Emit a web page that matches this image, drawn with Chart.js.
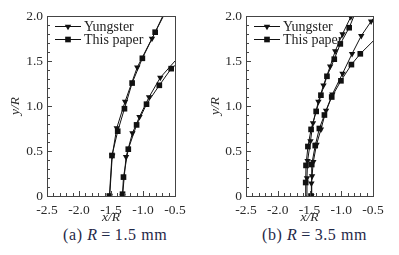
<!DOCTYPE html>
<html>
<head>
<meta charset="utf-8">
<script src="https://cdn.jsdelivr.net/npm/chart.js@4.4.1/dist/chart.umd.min.js"></script>
<style>
  body { margin: 0; background: #fff; width: 399px; height: 255px; position: relative; overflow: hidden; font-family: "Liberation Serif", serif; }
  .box { position: absolute; top: 0; }
  .cap { position: absolute; top: 226px; font-size: 16px; color: #1f2848; white-space: nowrap; letter-spacing: 0.6px; }
</style>
</head>
<body>
<div class="box" style="left:0"><canvas id="ca" width="200" height="226"></canvas></div>
<div class="box" style="left:200px"><canvas id="cb" width="199" height="226"></canvas></div>
<div class="cap" style="left:63px">(a)&nbsp;<i>R</i>&thinsp;=&thinsp;1.5&nbsp;mm</div>
<div class="cap" style="left:262px">(b)&nbsp;<i>R</i>&thinsp;=&thinsp;3.5&nbsp;mm</div>
<script>
// (a) R = 1.5 mm, [x/R, y/R]
var yungsterA1 = [[-1.52,0],[-1.48,0.45],[-1.41,0.755],[-1.28,1.05],[-1.09,1.43],[-0.86,1.75],[-0.68,2.0]];
var paperA1    = [[-1.525,0],[-1.485,0.45],[-1.395,0.72],[-1.29,0.97],[-1.17,1.255],[-1.01,1.53],[-0.81,1.82],[-0.69,2.0]];
var yungsterA2 = [[-1.32,0],[-1.265,0.435],[-1.165,0.70],[-1.055,0.88],[-0.905,1.10],[-0.73,1.315],[-0.5,1.5]];
var paperA2    = [[-1.32,0.02],[-1.305,0.21],[-1.23,0.52],[-1.10,0.79],[-0.945,1.02],[-0.745,1.23],[-0.56,1.415],[-0.5,1.45]];

// (b) R = 3.5 mm
var yungsterB1 = [[-1.55,0],[-1.54,0.2],[-1.53,0.39],[-1.485,0.61],[-1.445,0.81],[-1.36,1.05],[-1.28,1.23],[-1.175,1.44],[-1.095,1.61],[-0.98,1.8],[-0.85,1.99]];
var paperB1    = [[-1.565,0],[-1.56,0.15],[-1.555,0.34],[-1.525,0.55],[-1.475,0.74],[-1.395,0.94],[-1.32,1.12],[-1.225,1.33],[-1.11,1.52],[-1.015,1.69],[-0.875,1.87],[-0.80,2.0]];
var yungsterB2 = [[-1.47,0],[-1.47,0.14],[-1.46,0.22],[-1.44,0.38],[-1.39,0.57],[-1.32,0.74],[-1.24,0.95],[-1.14,1.13],[-0.98,1.36],[-0.83,1.58],[-0.685,1.78],[-0.53,1.94],[-0.5,1.97]];
var paperB2    = [[-1.475,0],[-1.465,0.35],[-1.41,0.56],[-1.345,0.75],[-1.265,0.9],[-1.15,1.1],[-1.005,1.28],[-0.84,1.46],[-0.70,1.58],[-0.5,1.72]];

var labels = ['Yungster', 'This paper'];
var xTicks = [-2.5, -2.0, -1.5, -1.0, -0.5];
var yTicks = [0, 0.5, 1.0, 1.5, 2.0];

var serif = "'Liberation Serif', 'Times New Roman', serif";

function pts(arr) {
  return arr.map(function (p) { return { x: p[0], y: p[1] }; });
}

// curve ends that just run to the axis have no marker
function radius(r) {
  return function (c) {
    var bare = c.dataset.bare || [];
    var idx = c.dataIndex < 0 ? 0 : c.dataIndex;
    var n = c.dataset.data.length;
    if (bare.indexOf(idx) >= 0 || bare.indexOf(idx - n) >= 0) return 0;
    return r;
  };
}

function yung(arr, bare) {
  return { label: labels[0], data: pts(arr), bare: bare, showLine: true, borderColor: '#111', borderWidth: 1,
    backgroundColor: '#111', pointStyle: 'triangle', rotation: 180, pointRadius: radius(3.7), pointBorderWidth: 0 };
}
function paper(arr, bare) {
  return { label: labels[1], data: pts(arr), bare: bare, showLine: true, borderColor: '#111', borderWidth: 1,
    backgroundColor: '#111', pointStyle: 'rect', pointRadius: radius(4), pointBorderWidth: 0 };
}

var frame = {
  id: 'frame',
  afterDatasetsDraw: function (chart) {
    var ctx = chart.ctx, a = chart.chartArea, sx = chart.scales.x, sy = chart.scales.y;
    ctx.save();
    ctx.strokeStyle = '#444';
    ctx.lineWidth = 1;
    ctx.strokeRect(Math.round(a.left) + 0.5, Math.round(a.top) + 0.5, Math.round(a.right - a.left), Math.round(a.bottom - a.top));
    // inward minor ticks every 0.1
    ctx.beginPath();
    for (var i = 0; i <= 20; i++) {
      var px = Math.round(sx.getPixelForValue(-2.5 + i * 0.1)) + 0.5;
      var len = i % 5 === 0 ? 5 : 3;
      ctx.moveTo(px, a.bottom); ctx.lineTo(px, a.bottom - len);
      var py = Math.round(sy.getPixelForValue(i * 0.1)) + 0.5;
      ctx.moveTo(a.left, py); ctx.lineTo(a.left + len, py);
    }
    ctx.stroke();
    // legend inside the plot
    var rows = [26.5, 39.5];
    chart.data.datasets.slice(0, 2).forEach(function (ds, k) {
      var y = rows[k], x0 = a.left + 8;
      ctx.strokeStyle = '#111';
      ctx.beginPath(); ctx.moveTo(x0, y); ctx.lineTo(x0 + 26, y); ctx.stroke();
      ctx.fillStyle = '#111';
      Chart.helpers.drawPoint(ctx, { pointStyle: ds.pointStyle, rotation: ds.rotation || 0, radius: k === 0 ? 3.7 : 4, borderWidth: 0 }, x0 + 13, y);
      ctx.font = '14px ' + serif;
      ctx.fillStyle = '#222';
      ctx.textBaseline = 'middle';
      ctx.fillText(ds.label, x0 + 29, y + 0.5);
    });
    ctx.restore();
  }
};

function makeChart(id, sets, yWidth, padRight) {
  return new Chart(document.getElementById(id), {
    type: 'scatter',
    data: { datasets: sets },
    options: {
      responsive: false,
      animation: false,
      layout: { padding: { left: 0, right: padRight, top: 16, bottom: 0 } },
      plugins: { legend: { display: false }, tooltip: { enabled: false } },
      scales: {
        x: {
          type: 'linear', min: -2.5, max: -0.5,
          afterBuildTicks: function (s) { s.ticks = xTicks.map(function (v) { return { value: v }; }); },
          afterFit: function (s) { s.height = 30; },
          grid: { display: false, drawTicks: false },
          border: { display: false },
          ticks: { padding: 6, color: '#2a2a2a', font: { family: serif, size: 13.5 }, maxRotation: 0,
            callback: function (v) { return v.toFixed(1); } },
          title: { display: true, text: 'x/R', color: '#2a2a2a', padding: 0, font: { family: serif, size: 13.5, style: 'italic' } }
        },
        y: {
          type: 'linear', min: 0, max: 2,
          afterBuildTicks: function (s) { s.ticks = yTicks.map(function (v) { return { value: v }; }); },
          afterFit: function (s) { s.width = yWidth; },
          grid: { display: false, drawTicks: false },
          border: { display: false },
          ticks: { padding: 4, color: '#2a2a2a', font: { family: serif, size: 13.5 },
            callback: function (v) { return v === 0 ? '0' : v.toFixed(1); } },
          title: { display: true, text: 'y/R', color: '#2a2a2a', padding: { top: 7, bottom: 0 }, font: { family: serif, size: 13.5, style: 'italic' } }
        }
      }
    },
    plugins: [frame]
  });
}

makeChart('ca', [
  yung(yungsterA1, [-1]), paper(paperA1, [-1]),
  yung(yungsterA2, [-1]), paper(paperA2, [-1])
], 47, 25);

makeChart('cb', [
  yung(yungsterB1, [0]), paper(paperB1, [0, -1]),
  yung(yungsterB2, [-1]), paper(paperB2, [-1])
], 46, 26);
</script>
</body>
</html>
